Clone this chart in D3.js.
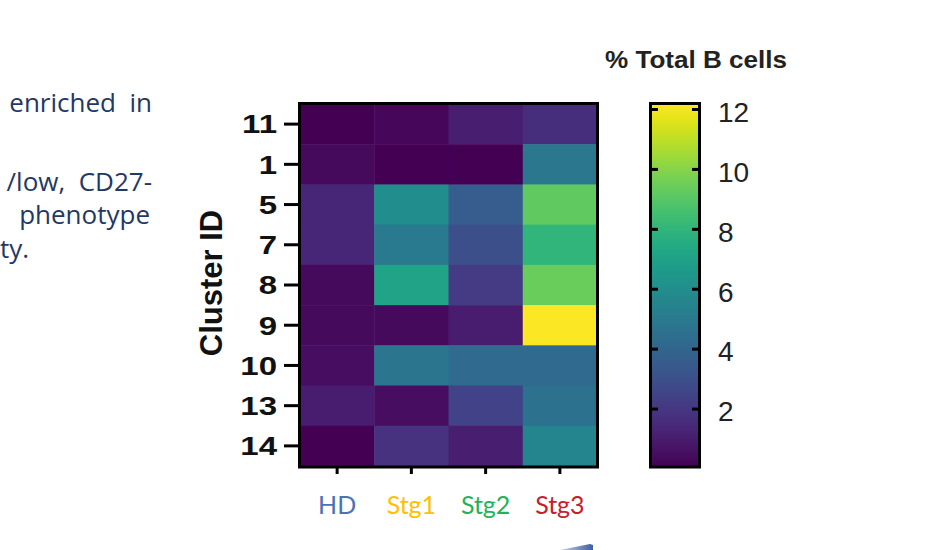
<!DOCTYPE html>
<html><head><meta charset="utf-8">
<script src="https://cdn.jsdelivr.net/npm/d3@7"></script>
<style>
html,body{margin:0;padding:0;background:#fff;}
svg{display:block;}
</style></head>
<body>
<svg id="chart" width="949" height="550"></svg>
<script>
// ---- data ----
const stages = ["HD", "Stg1", "Stg2", "Stg3"];
const stageColors = ["#4a72b8", "#ffc000", "#1fb35a", "#c8202a"];
const clusters = ["11", "1", "5", "7", "8", "9", "10", "13", "14"];
const valHD   = [0.0, 0.4, 1.4, 1.4, 0.4, 0.4, 0.5, 1.0, 0.0];
const valStg1 = [0.3, 0.0, 6.0, 5.0, 7.1, 0.4, 4.8, 0.5, 1.8];
const valStg2 = [1.1, 0.0, 3.6, 3.0, 2.2, 1.0, 4.2, 2.5, 1.1];
const valStg3 = [1.7, 4.9, 9.2, 8.0, 9.4, 12.1, 4.2, 4.6, 5.6];
const colorbarTicks = [2, 4, 6, 8, 10, 12];
const colorDomain = [0.1, 12.15];
const sideText = [
  {t: "enriched  in", anchor: "end"},
  {t: "/low,  CD27-", anchor: "end"},
  {t: "phenotype", anchor: "end"},
  {t: "ty.", anchor: "start"}
];

const seriesByStage = [valHD, valStg1, valStg2, valStg3];
const cells = [];
stages.forEach((s, i) => clusters.forEach((c, j) => cells.push({stage: s, cluster: c, v: seriesByStage[i][j]})));

const svg = d3.select("#chart");

// ---- side text (cropped slide text) ----
const textPos = [{x: 152, y: 112}, {x: 152, y: 191}, {x: 150, y: 224}, {x: 0, y: 258}];
svg.append("g").selectAll("text").data(sideText).join("text")
  .attr("x", (d, i) => textPos[i].x).attr("y", (d, i) => textPos[i].y)
  .attr("text-anchor", d => d.anchor)
  .attr("font-family", "'Open Sans', Lato, sans-serif")
  .attr("font-size", 26).attr("fill", "#1f3864")
  .style("white-space", "pre")
  .text(d => d.t);

// ---- scales ----
const x = d3.scaleBand().domain(stages).range([300, 597]);
const y = d3.scaleBand().domain(clusters).range([104, 466]);
const color = d3.scaleSequential(d3.interpolateViridis).domain(colorDomain).clamp(true);

// ---- cells ----
svg.append("g").selectAll("rect").data(cells).join("rect")
  .attr("x", d => x(d.stage)).attr("y", d => y(d.cluster))
  .attr("width", x.bandwidth() + 0.5).attr("height", y.bandwidth() + 0.5)
  .attr("fill", d => color(d.v));

// border
svg.append("rect").attr("x", 299.5).attr("y", 103.5).attr("width", 298).attr("height", 363.5)
  .attr("fill", "none").attr("stroke", "#000").attr("stroke-width", 3);

// y axis
const yAxis = svg.append("g").attr("transform", "translate(298,0)")
  .call(d3.axisLeft(y).tickSize(14).tickPadding(6));
yAxis.select(".domain").remove();
yAxis.selectAll(".tick line").attr("stroke", "#000").attr("stroke-width", 3);
const sx = 1.27;
yAxis.selectAll(".tick text").attr("font-family", "'Liberation Sans', Arial, sans-serif")
  .attr("font-weight", "bold").attr("font-size", 26).attr("fill", "#111").attr("dy", "0.36em")
  .attr("x", -21 / sx).attr("transform", `scale(${sx},1)`);

// x axis
const xAxis = svg.append("g").attr("transform", "translate(0,468)")
  .call(d3.axisBottom(x).tickSize(6).tickPadding(22));
xAxis.select(".domain").remove();
xAxis.selectAll(".tick line").attr("stroke", "#000").attr("stroke-width", 3);
xAxis.selectAll(".tick text").attr("font-family", "Lato, 'Open Sans', sans-serif")
  .attr("font-size", 25).attr("fill", (d, i) => stageColors[i]);

// y title
svg.append("text").attr("transform", "translate(222,283) rotate(-90)")
  .attr("text-anchor", "middle")
  .attr("font-family", "'Liberation Sans', Arial, sans-serif").attr("font-weight", "bold")
  .attr("font-size", 31).attr("fill", "#111").text("Cluster ID");

// ---- colorbar ----
const cbY = d3.scaleLinear().domain(colorDomain).range([466, 105]);
const defs = svg.append("defs");
const grad = defs.append("linearGradient").attr("id", "vgrad")
  .attr("x1", 0).attr("y1", 1).attr("x2", 0).attr("y2", 0);
d3.range(0, 1.0001, 0.05).forEach(t => {
  grad.append("stop").attr("offset", t).attr("stop-color", d3.interpolateViridis(t));
});
svg.append("rect").attr("x", 650.5).attr("y", 103.5).attr("width", 49).attr("height", 363.5)
  .attr("fill", "url(#vgrad)").attr("stroke", "#000").attr("stroke-width", 3);

const cbAxis = svg.append("g").attr("transform", "translate(700,0)")
  .call(d3.axisRight(cbY).tickValues(colorbarTicks).tickSize(0).tickPadding(18));
cbAxis.select(".domain").remove();
cbAxis.selectAll(".tick text").attr("font-family", "'Liberation Sans', Arial, sans-serif")
  .attr("font-size", 28).attr("fill", "#222").attr("dy", "0.42em");
// inward tick marks on both edges
const tk = svg.append("g");
tk.selectAll("line.l").data(colorbarTicks).join("line").attr("class", "l")
  .attr("x1", 650).attr("x2", 658).attr("y1", d => cbY(d)).attr("y2", d => cbY(d))
  .attr("stroke", "#000").attr("stroke-width", 3);
tk.selectAll("line.r").data(colorbarTicks).join("line").attr("class", "r")
  .attr("x1", 692).attr("x2", 700).attr("y1", d => cbY(d)).attr("y2", d => cbY(d))
  .attr("stroke", "#000").attr("stroke-width", 3);

svg.append("text").attr("x", 605).attr("y", 68)
  .attr("font-family", "'Liberation Sans', Arial, sans-serif").attr("font-weight", "bold")
  .attr("font-size", 24).attr("fill", "#222")
  .attr("textLength", 182).attr("lengthAdjust", "spacingAndGlyphs")
  .text("% Total B cells");

// ---- small cropped slide arrow at bottom ----
const ag = defs.append("linearGradient").attr("id", "agrad").attr("x1", 0).attr("x2", 1);
ag.append("stop").attr("offset", 0).attr("stop-color", "#c8d2e8");
ag.append("stop").attr("offset", 1).attr("stop-color", "#3f5f9f");
svg.append("path").attr("d", "M560,550 L590,544 L593,545 L593,550 Z").attr("fill", "url(#agrad)");
</script>
</body></html>
